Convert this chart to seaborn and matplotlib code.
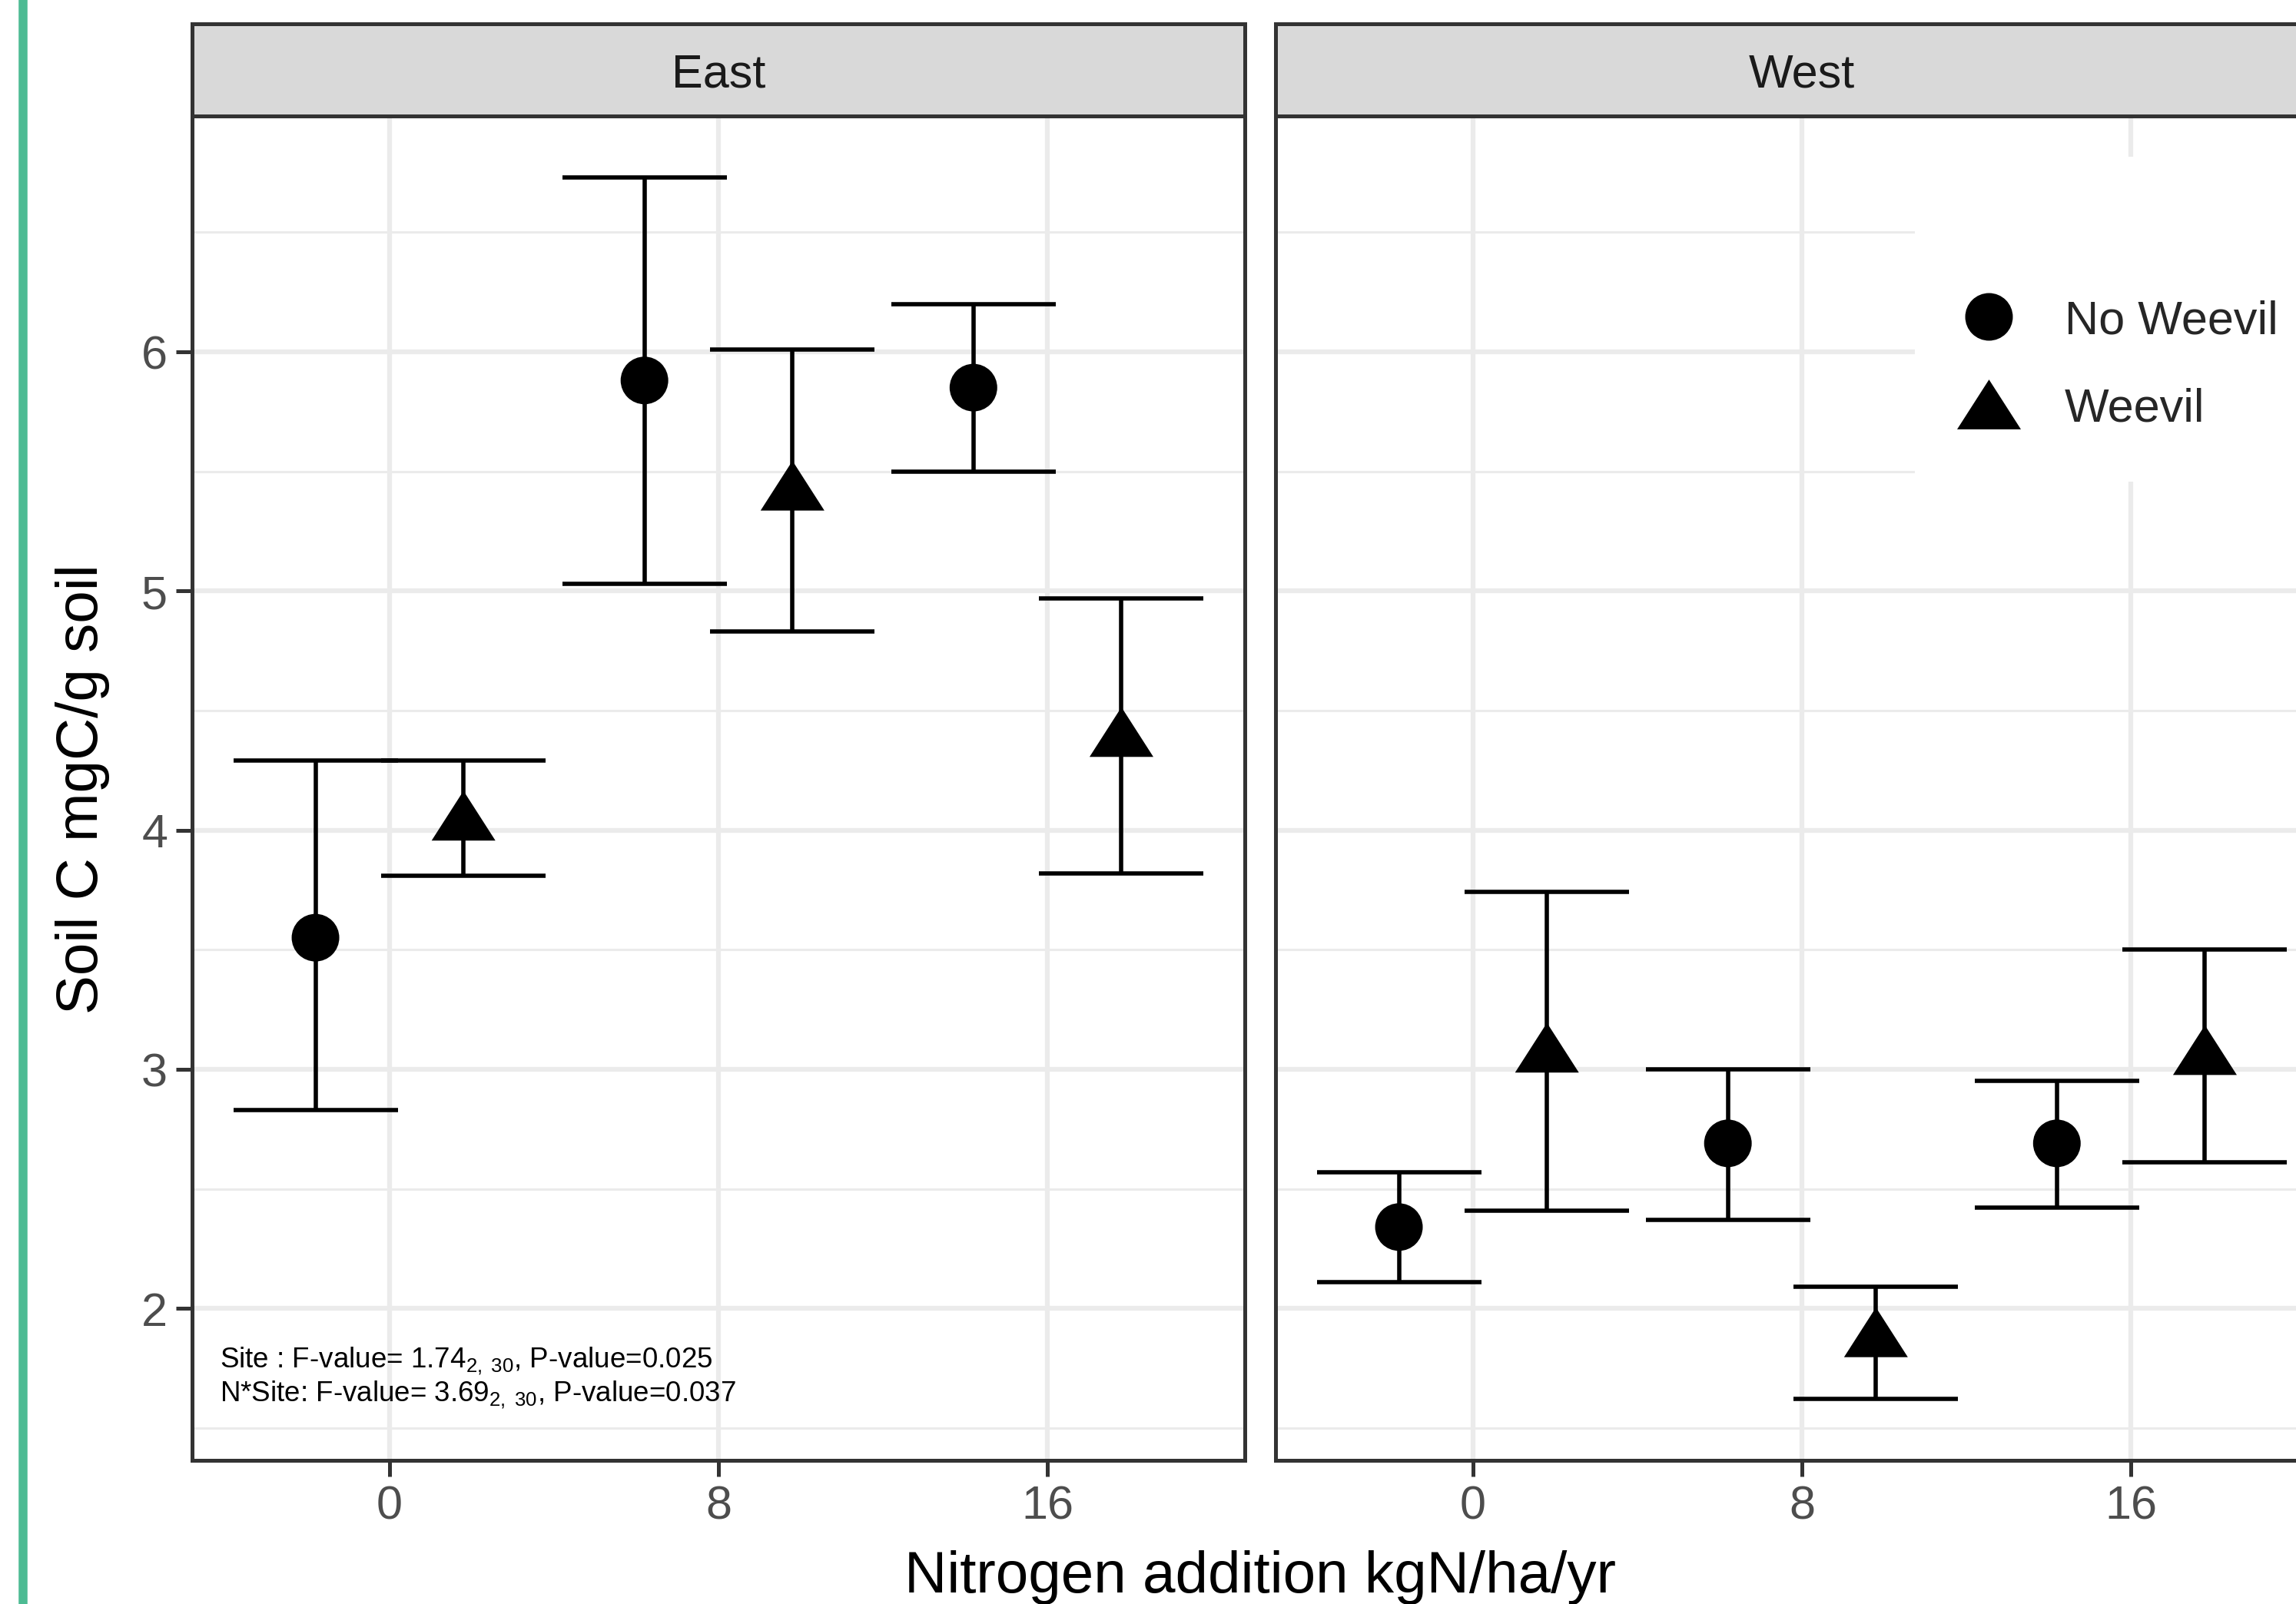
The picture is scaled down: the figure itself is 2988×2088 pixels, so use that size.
import numpy as np                                                      # manipulação de dados
import pandas as pd                                                     # manipulação de dados
import matplotlib
matplotlib.use("Agg")
import matplotlib.pyplot as plt                                         # visualização de dados
from matplotlib.path import Path
from matplotlib.lines import Line2D
from matplotlib.patches import Rectangle
import seaborn as sns                                                   # visualização de dados

# Valores
sites = ["East", "West"]
nitrogenio = ["0", "8", "16"]
tratamentos = ["No Weevil", "Weevil"]

eastMediaSemGorgulho = [3.55, 5.88, 5.85]
eastInfSemGorgulho = [2.83, 5.03, 5.50]
eastSupSemGorgulho = [4.29, 6.73, 6.20]
eastMediaGorgulho = [4.06, 5.44, 4.41]
eastInfGorgulho = [3.81, 4.83, 3.82]
eastSupGorgulho = [4.29, 6.01, 4.97]

westMediaSemGorgulho = [2.34, 2.69, 2.69]
westInfSemGorgulho = [2.11, 2.37, 2.42]
westSupSemGorgulho = [2.57, 3.00, 2.95]
westMediaGorgulho = [3.09, 1.90, 3.08]
westInfGorgulho = [2.41, 1.62, 2.61]
westSupGorgulho = [3.74, 2.09, 3.50]

textoAnova = [r"Site : F-value= 1.74$_{\mathrm{2,\ 30}}$, P-value=0.025",
              r"N*Site: F-value= 3.69$_{\mathrm{2,\ 30}}$, P-value=0.037"]

# Preparando dataFrame
linhas = []
series = {("East", "No Weevil"): (eastMediaSemGorgulho, eastInfSemGorgulho, eastSupSemGorgulho),
          ("East", "Weevil"): (eastMediaGorgulho, eastInfGorgulho, eastSupGorgulho),
          ("West", "No Weevil"): (westMediaSemGorgulho, westInfSemGorgulho, westSupSemGorgulho),
          ("West", "Weevil"): (westMediaGorgulho, westInfGorgulho, westSupGorgulho)}
for (site, trat), (media, inf, sup) in series.items():
    for i, n in enumerate(nitrogenio):
        linhas.append({"site": site, "nitrogen": n, "treatment": trat,
                       "mean": media[i], "lower": inf[i], "upper": sup[i]})
dataFrameSolo = pd.DataFrame(linhas)

# posição dodge (como position_dodge do ggplot)
larguraDodge = 0.9
deslocamento = {t: (i - (len(tratamentos) - 1) / 2) * larguraDodge / len(tratamentos)
                for i, t in enumerate(tratamentos)}
dataFrameSolo["xpos"] = [nitrogenio.index(n) + deslocamento[t]
                         for n, t in zip(dataFrameSolo.nitrogen, dataFrameSolo.treatment)]

# escala y compartilhada (expansão de 5%)
yMin, yMax = dataFrameSolo.lower.min(), dataFrameSolo.upper.max()
yPad = 0.05 * (yMax - yMin)

sns.set_theme(style="white")
plt.rcParams["font.family"] = ["Liberation Sans", "DejaVu Sans"]
plt.rcParams["mathtext.fontset"] = "custom"
plt.rcParams["mathtext.rm"] = "Liberation Sans"
plt.rcParams["mathtext.it"] = "Liberation Sans:italic"

W, H = 2988, 2089
fig = plt.figure(figsize=(29.88, 20.889), dpi=100)


def retangulo(x0, y0, x1, y1):
    return [x0 / W, 1 - y1 / H, (x1 - x0) / W, (y1 - y0) / H]


triangulo = Path([(0, 0.78), (-1, -0.78), (1, -0.78), (0, 0.78)], closed=True)
marcadores = {"No Weevil": "o", "Weevil": triangulo}
tamanhos = {"No Weevil": 1990, "Weevil": 3575}

corBorda = "#333333"
esquerdas = {"East": 250, "West": 1660}
largura = 1370
eixos = {}

for site in sites:
    l = esquerdas[site]
    ax = fig.add_axes(retangulo(l, 152, l + largura, 1902))
    sub = dataFrameSolo[dataFrameSolo.site == site]

    # barras de erro
    ax.vlines(sub.xpos, sub.lower, sub.upper, color="black", lw=4, zorder=2)
    ax.hlines(sub.lower, sub.xpos - 0.25, sub.xpos + 0.25, color="black", lw=4, zorder=2)
    ax.hlines(sub.upper, sub.xpos - 0.25, sub.xpos + 0.25, color="black", lw=4, zorder=2)

    sns.scatterplot(data=sub, x="xpos", y="mean", style="treatment", size="treatment",
                    markers=marcadores, sizes=tamanhos, style_order=tratamentos,
                    size_order=tratamentos, color="black", linewidth=0, ax=ax,
                    legend=(site == "West"), zorder=3)

    ax.set_xlim(-0.6, len(nitrogenio) - 1 + 0.6)
    ax.set_ylim(yMin - yPad, yMax + yPad)
    ax.set_xticks(range(len(nitrogenio)), nitrogenio)
    ax.set_yticks([2, 3, 4, 5, 6])
    ax.set_yticks(np.arange(1.5, 7.0, 1.0), minor=True)
    ax.set_axisbelow(True)
    ax.grid(which="major", color="#ebebeb", lw=4.5)
    ax.grid(which="minor", axis="y", color="#ebebeb", lw=2.2)
    for s in ax.spines.values():
        s.set_color(corBorda)
        s.set_linewidth(3.6)
    ax.tick_params(axis="both", which="major", length=15, width=3.6, color=corBorda,
                   labelsize=44, labelcolor="#4d4d4d", pad=8, bottom=True, left=True)
    ax.tick_params(which="minor", length=0)
    if site == "West":
        ax.tick_params(axis="y", left=False, labelleft=False)
    ax.set_xlabel("")
    ax.set_ylabel("")
    eixos[site] = ax

    # faixa do facet
    sax = fig.add_axes(retangulo(l, 32, l + largura, 152))
    sax.set_facecolor("#d9d9d9")
    sax.set_xticks([])
    sax.set_yticks([])
    for s in sax.spines.values():
        s.set_color(corBorda)
        s.set_linewidth(3.6)
    sax.text(0.5, 0.45, site, ha="center", va="center", fontsize=44, color="#1a1a1a",
             transform=sax.transAxes)

# texto da ANOVA
for i, txt in enumerate(textoAnova):
    eixos["East"].text(0.026, 0.0743 - i * 0.0252, txt, transform=eixos["East"].transAxes,
                       ha="left", va="center", fontsize=26.5, color="black")

# legenda
axW = eixos["West"]
legAntiga = axW.get_legend()
handles = legAntiga.legend_handles
labels = [t.get_text() for t in legAntiga.get_texts()]
legAntiga.remove()
axW.add_patch(Rectangle((2492 / W, 1 - 628 / H), 600 / W, (628 - 205) / H, transform=fig.transFigure,
                        facecolor="white", edgecolor="none", zorder=1, clip_on=False))
axW.legend(handles, labels, loc="center left", bbox_to_anchor=(2539 / W, 1 - 476 / H),
           bbox_transform=fig.transFigure, frameon=False, fontsize=44, labelspacing=0.94,
           handlelength=1.6, handletextpad=0.82, borderpad=0, borderaxespad=0)

# títulos dos eixos
fig.text(108 / W, 1 - 1027 / H, "Soil C mgC/g soil", rotation=90, ha="center", va="center",
         fontsize=55, color="black")
fig.text(1640 / W, 1 - 2073 / H, "Nitrogen addition kgN/ha/yr", ha="center", va="baseline",
         fontsize=55, color="black")

# linha verde da margem
fig.add_artist(Line2D([29.5 / W, 29.5 / W], [0, 1], transform=fig.transFigure,
                      color="#4dbb93", lw=8.3))

fig.savefig("out.png", dpi=100)
